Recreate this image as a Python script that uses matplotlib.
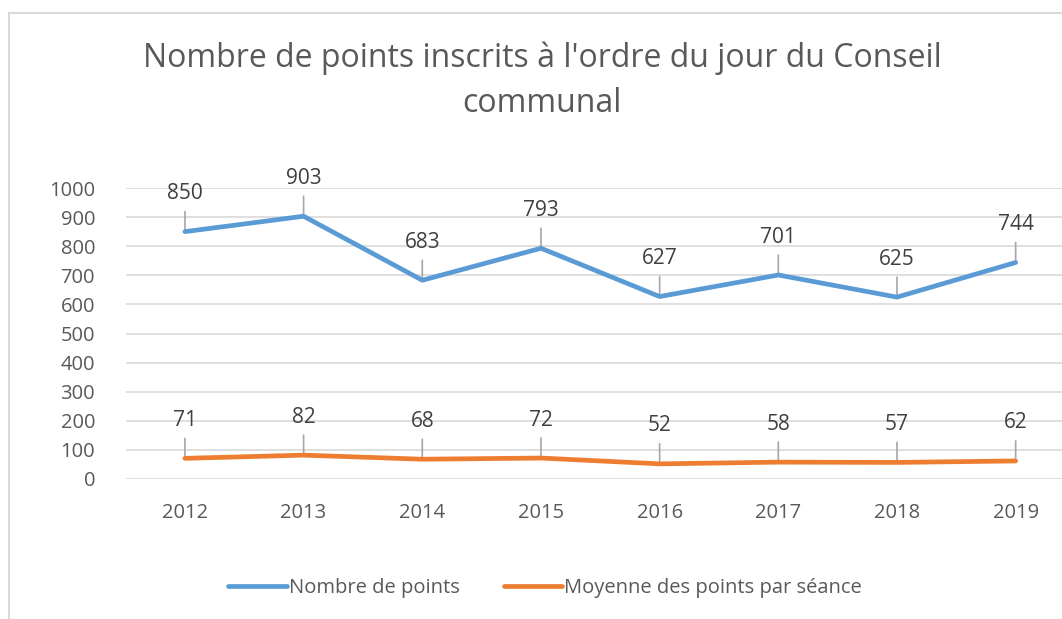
import matplotlib.pyplot as plt
from matplotlib.patches import Rectangle

# data
years = ['2012', '2013', '2014', '2015', '2016', '2017', '2018', '2019']
nombre_points = [850, 903, 683, 793, 627, 701, 625, 744]
moyenne_points = [71, 82, 68, 72, 52, 58, 57, 62]

blue = '#5B9BD5'
orange = '#ED7D31'
txt = '#595959'

plt.rcParams['font.family'] = ['Open Sans', 'DejaVu Sans']

fig = plt.figure(figsize=(10.62, 6.19), dpi=100)
ax = fig.add_axes([125.6 / 1062, 140 / 619, 949.4 / 1062, 291 / 619])

# chart border (cut on right/bottom like the screenshot)
fig.patches.append(Rectangle((9 / 1062, -0.05), 1.2, (619 - 13) / 619 + 0.05,
                             transform=fig.transFigure, fill=False,
                             edgecolor='#D9D9D9', linewidth=1.5))

x = range(len(years))
ax.plot(x, nombre_points, color=blue, linewidth=3.4, solid_capstyle='round',
        label='Nombre de points', zorder=3)
ax.plot(x, moyenne_points, color=orange, linewidth=3.4, solid_capstyle='round',
        label='Moyenne des points par séance', zorder=3)

# data labels with leader lines
for series in (nombre_points, moyenne_points):
    for i, v in enumerate(series):
        ax.annotate('', xy=(i, v), xytext=(0, 20), textcoords='offset pixels',
                    arrowprops=dict(arrowstyle='-', color='#A6A6A6', lw=1.2,
                                    shrinkA=0, shrinkB=0), zorder=2)
        ax.annotate(str(v), xy=(i, v), xytext=(0, 38), textcoords='offset pixels',
                    ha='center', va='center', fontsize=15, color='#404040')

ax.set_xlim(-0.5, len(years) - 0.5)
ax.set_ylim(0, 1000)
ax.set_yticks(range(0, 1001, 100))
ax.set_xticks(list(x))
ax.set_xticklabels(years)
ax.tick_params(axis='both', length=0, labelsize=14.5, labelcolor=txt)
ax.tick_params(axis='x', pad=17)
ax.tick_params(axis='y', pad=22)
ax.grid(axis='y', color='#D9D9D9', linewidth=1.2)
ax.set_axisbelow(True)
for s in ax.spines.values():
    s.set_visible(False)

fig.text(542 / 1062, 1 - 81 / 619, "Nombre de points inscrits à l'ordre du jour du Conseil\ncommunal",
         ha='center', va='center', fontsize=23, color=txt, linespacing=1.5)

fig.legend(loc='center', bbox_to_anchor=(545 / 1062, 1 - 588 / 619), ncol=2,
           frameon=False, fontsize=14.5, labelcolor=txt, handlelength=2.9,
           handletextpad=0.1, columnspacing=2.2)

plt.savefig('out.png', dpi=100)
